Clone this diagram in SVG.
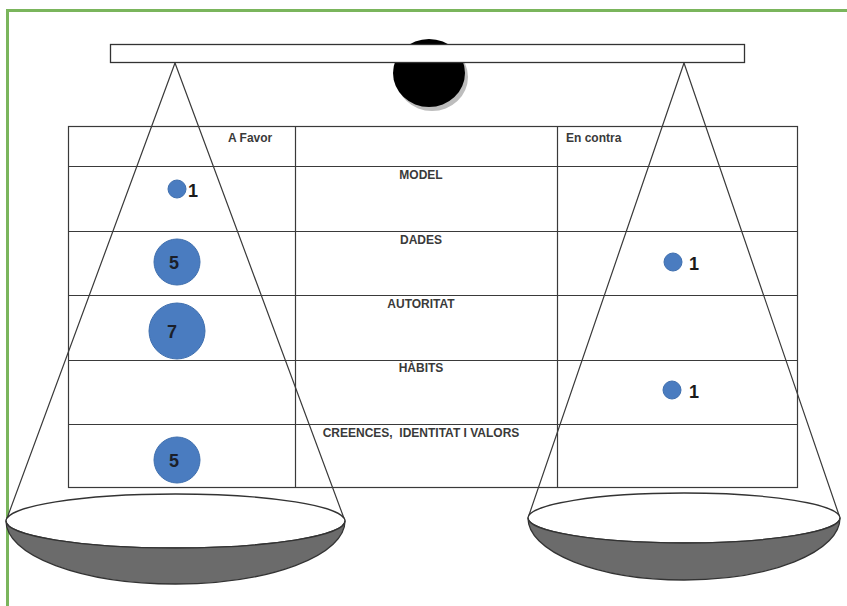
<svg xmlns="http://www.w3.org/2000/svg" width="847" height="606" viewBox="0 0 847 606">
<style>
.ln{stroke:#3a3a3a;stroke-width:1.2;fill:none}
.hd{font-family:"Liberation Sans",Arial,sans-serif;font-weight:bold;font-size:12px;fill:#3a3a3a}
.ct{text-anchor:middle}
.dot{fill:#4a7cc0;stroke:#3f6fae;stroke-width:1}
.num{font-family:"Liberation Sans",Arial,sans-serif;font-weight:bold;font-size:18px;fill:#1b1f2a;text-anchor:middle}
.one{font-family:"Liberation Sans",Arial,sans-serif;font-weight:bold;font-size:18px;fill:#1b1b1b}
.pan{fill:#fff;stroke:#333;stroke-width:1.3}
.bowl{fill:#6b6b6b;stroke:#333;stroke-width:1.3}
</style>
<rect width="847" height="606" fill="#fff"/>
<path d="M7.5,606 V10.5 H847" fill="none" stroke="#7ab55c" stroke-width="3"/>

<g id="fulcrum">
<ellipse cx="432" cy="77" rx="36" ry="34" fill="#bdbdbd"/>
<ellipse cx="429" cy="73" rx="36" ry="34" fill="#000"/>
</g>
<g id="beam">
<rect x="110.5" y="44.5" width="634" height="18" fill="#fff" stroke="#333" stroke-width="1.3"/>
</g>

<g id="table">
<rect class="ln" x="68.5" y="126.5" width="729" height="361"/>
<path class="ln" d="M68.5,166.5H797.5M68.5,231.5H797.5M68.5,295.5H797.5M68.5,360.5H797.5M68.5,424.5H797.5M295.5,126.5V487.5M557.5,126.5V487.5"/>
<text class="hd" x="228" y="142">A Favor</text>
<text class="hd" x="566" y="142">En contra</text>
<text class="hd ct" x="421" y="179">MODEL</text>
<text class="hd ct" x="421" y="244">DADES</text>
<text class="hd ct" x="421" y="308">AUTORITAT</text>
<text class="hd ct" x="421" y="372">HÀBITS</text>
<text class="hd ct" x="421" y="437" xml:space="preserve">CREENCES,  IDENTITAT I VALORS</text>
</g>

<g id="favor-model">
<circle class="dot" cx="177" cy="189" r="9"/>
<text class="one" x="188" y="197">1</text>
</g>
<g id="favor-dades">
<circle class="dot" cx="177" cy="262" r="23"/>
<text class="num" x="174" y="269">5</text>
</g>
<g id="favor-autoritat">
<circle class="dot" cx="177" cy="331" r="28"/>
<text class="num" x="172" y="338">7</text>
</g>
<g id="favor-creences">
<circle class="dot" cx="177" cy="460" r="23"/>
<text class="num" x="174" y="467">5</text>
</g>
<g id="contra-dades">
<circle class="dot" cx="673" cy="262" r="9"/>
<text class="one" x="689" y="270">1</text>
</g>
<g id="contra-habits">
<circle class="dot" cx="672" cy="390" r="9"/>
<text class="one" x="689" y="398">1</text>
</g>

<g id="connectors">
<path class="ln" d="M175,63 L6,521 M175,63 L345,521 M684,63 L528,518 M684,63 L840,518"/>
</g>

<g id="pan-left">
<ellipse class="pan" cx="175.5" cy="521" rx="169.5" ry="27"/>
<path class="bowl" d="M6,521 A169.5,27 0 0 0 345,521 A169.5,63 0 0 1 6,521 Z"/>
</g>
<g id="pan-right">
<ellipse class="pan" cx="684" cy="518" rx="156" ry="25"/>
<path class="bowl" d="M528,518 A156,25 0 0 0 840,518 A156,62 0 0 1 528,518 Z"/>
</g>
</svg>
